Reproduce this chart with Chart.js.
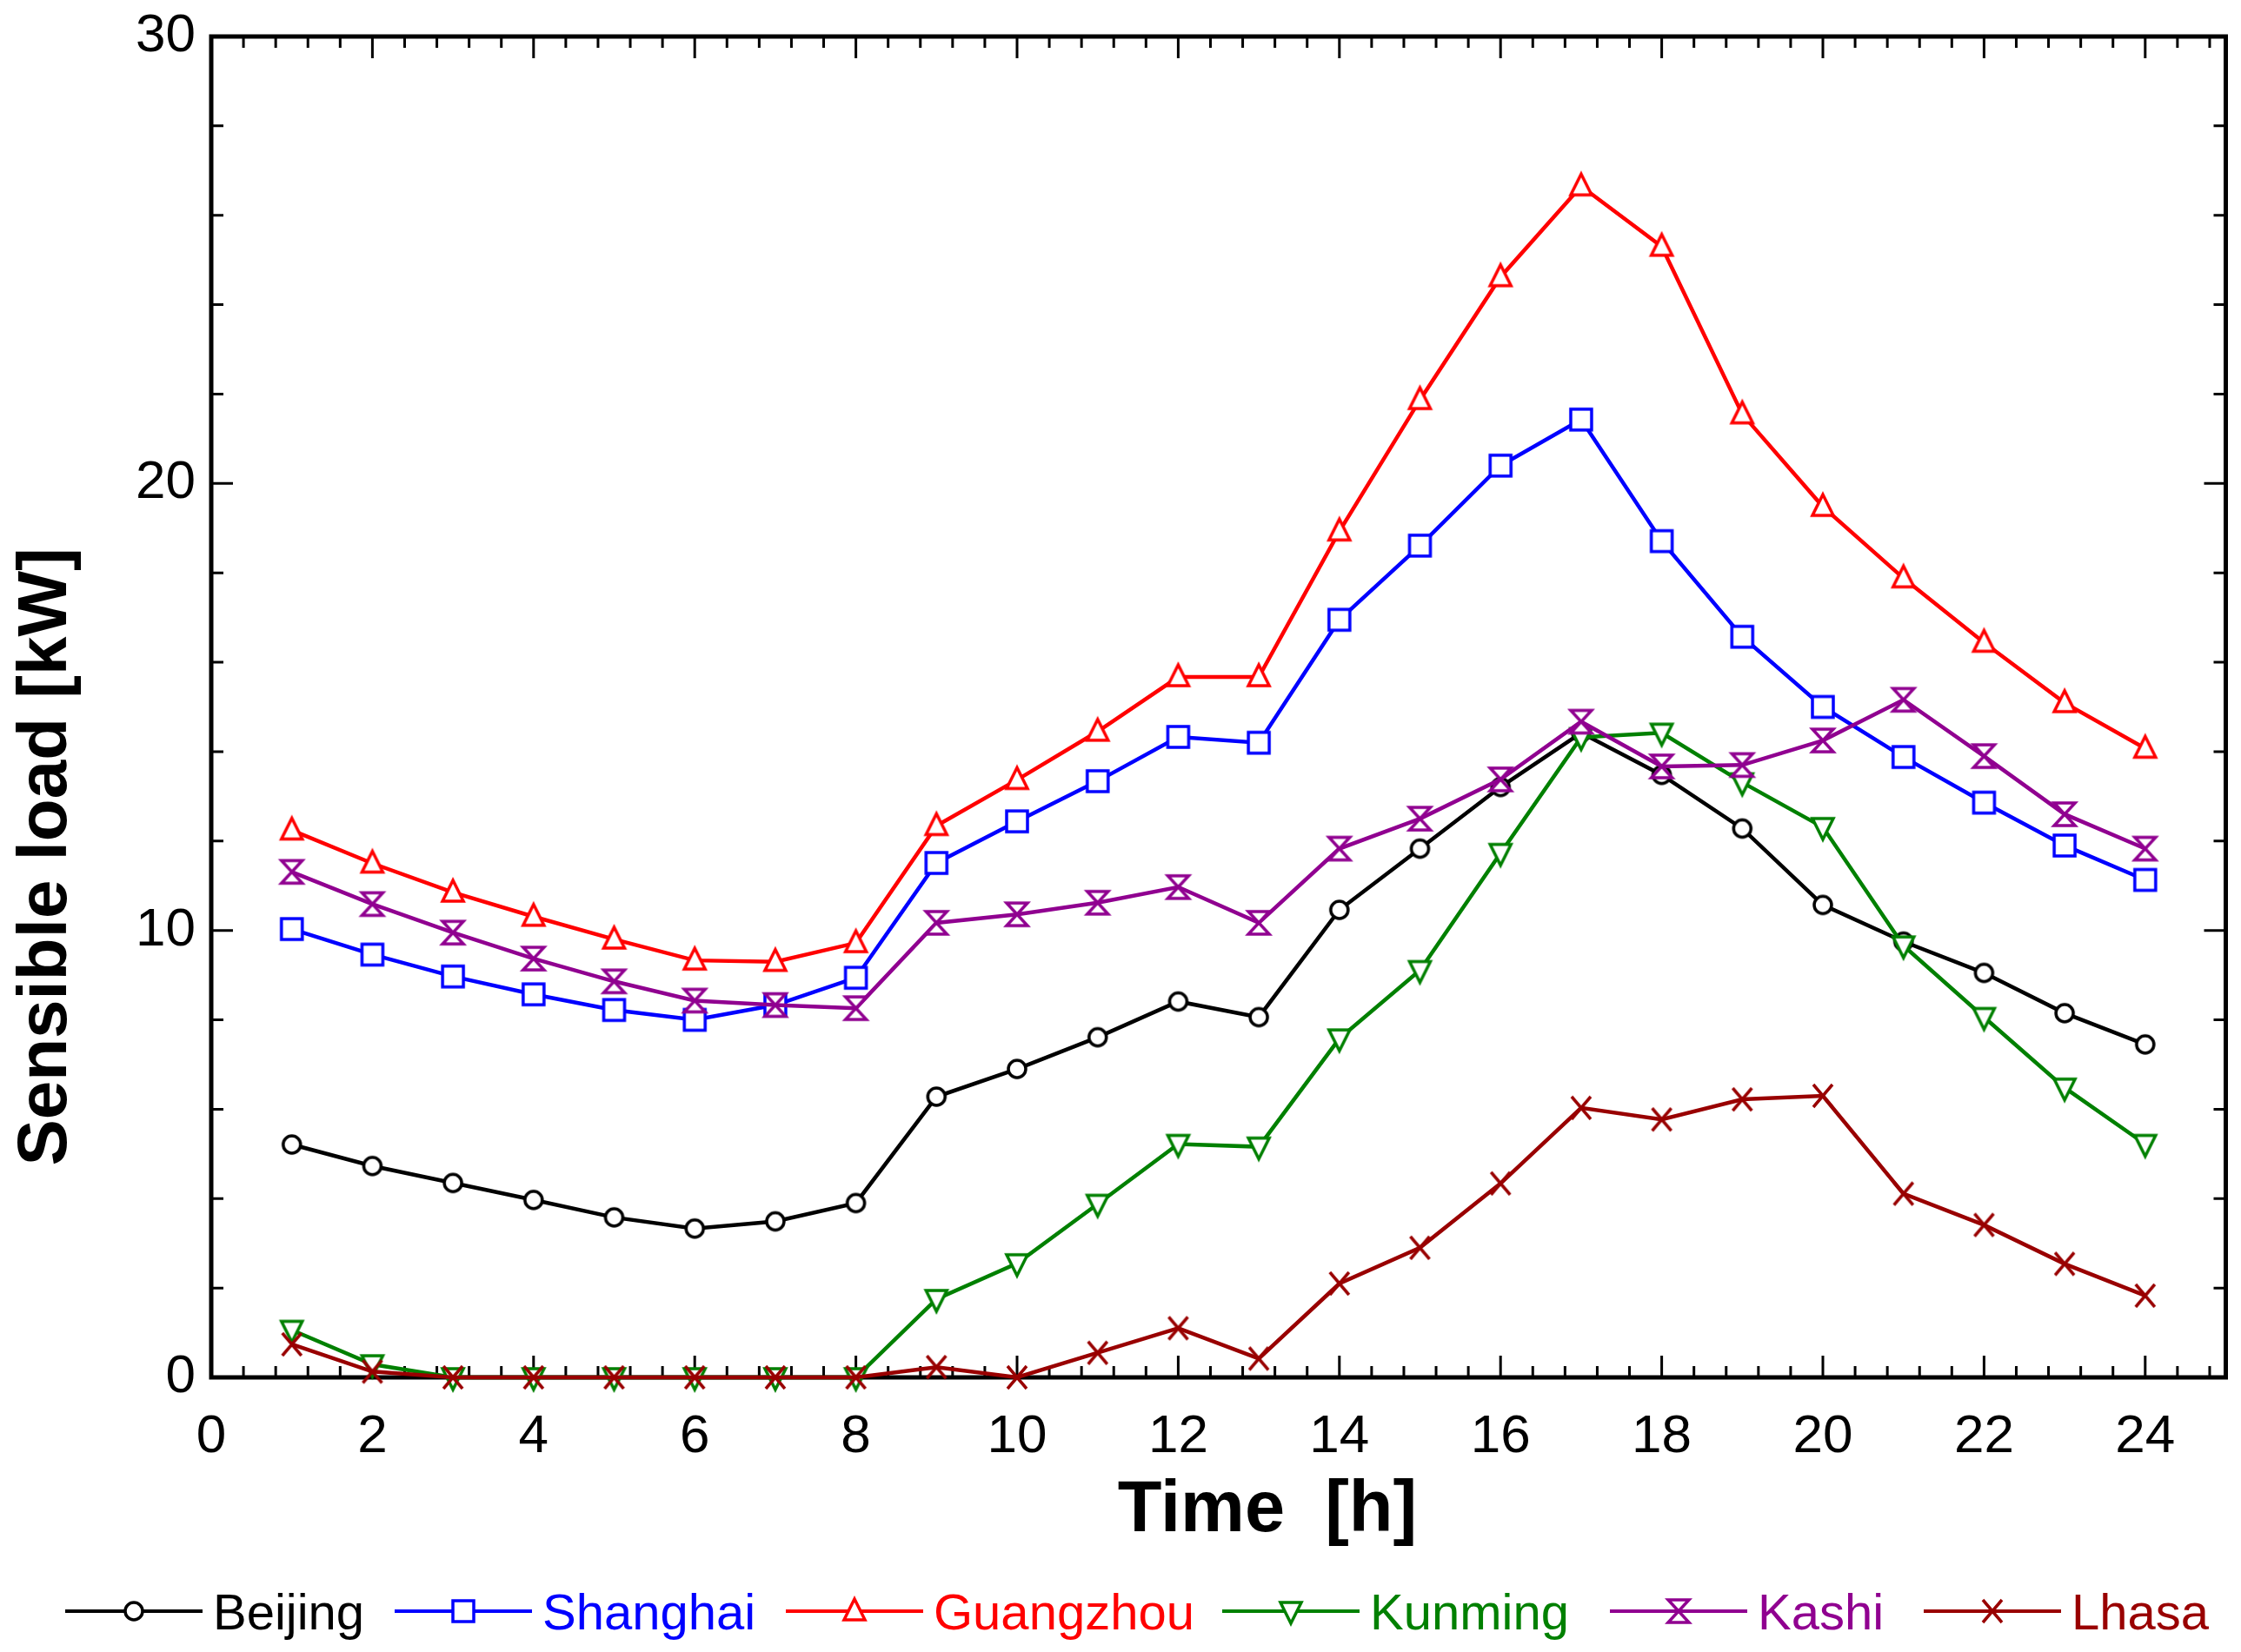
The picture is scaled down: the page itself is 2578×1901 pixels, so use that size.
<!DOCTYPE html>
<html>
<head>
<meta charset="utf-8">
<title>Sensible load</title>
<script src="https://cdn.jsdelivr.net/npm/chart.js@4.4.0/dist/chart.umd.min.js"></script>
<style>
  html, body { margin: 0; padding: 0; background: #fff; }
  #wrap { width: 2578px; height: 1901px; position: relative; }
</style>
</head>
<body>
<div id="wrap"><canvas id="load"></canvas></div>
<script>
// hours of the day (x) and sensible load in kW for each city (y)
const hours = [1, 2, 3, 4, 5, 6, 7, 8, 9, 10, 11, 12, 13, 14, 15, 16, 17, 18, 19, 20, 21, 22, 23, 24];
const cities = ["Beijing", "Shanghai", "Guangzhou", "Kunming", "Kashi", "Lhasa"];

const beijing   = [5.21, 4.73, 4.35, 3.97, 3.58, 3.33, 3.49, 3.90, 6.28, 6.90, 7.61, 8.41, 8.06, 10.46, 11.83, 13.21, 14.42, 13.48, 12.28, 10.57, 9.75, 9.05, 8.15, 7.45];
const shanghai  = [10.03, 9.46, 8.97, 8.57, 8.22, 8.00, 8.33, 8.94, 11.51, 12.44, 13.34, 14.33, 14.20, 16.95, 18.61, 20.40, 21.43, 18.71, 16.57, 15.00, 13.88, 12.86, 11.90, 11.13];
const guangzhou = [12.24, 11.50, 10.85, 10.31, 9.80, 9.33, 9.30, 9.72, 12.34, 13.37, 14.45, 15.67, 15.67, 18.93, 21.87, 24.62, 26.65, 25.30, 21.55, 19.48, 17.88, 16.44, 15.09, 14.07];
const kunming   = [1.06, 0.29, 0, 0, 0, 0, 0, 0, 1.75, 2.55, 3.88, 5.22, 5.16, 7.58, 9.11, 11.73, 14.32, 14.42, 13.31, 12.31, 9.66, 8.06, 6.48, 5.22];
const kashi     = [11.31, 10.59, 9.95, 9.37, 8.86, 8.43, 8.33, 8.26, 10.17, 10.36, 10.62, 10.97, 10.17, 11.83, 12.50, 13.38, 14.67, 13.67, 13.70, 14.25, 15.16, 13.90, 12.60, 11.83];
const lhasa     = [0.74, 0.13, 0, 0, 0, 0, 0, 0, 0.23, 0, 0.55, 1.10, 0.42, 2.10, 2.90, 4.34, 6.03, 5.77, 6.22, 6.30, 4.11, 3.41, 2.54, 1.83];

// tick labels
const xTicks = [0, 2, 4, 6, 8, 10, 12, 14, 16, 18, 20, 22, 24];
const yTicks = [0, 10, 20, 30];

const series = [beijing, shanghai, guangzhou, kunming, kashi, lhasa];
const colors = ["#000000", "#0000ff", "#ff0000", "#008000", "#900090", "#990000"];
const shapes = ["circle", "square", "up", "down", "hourglass", "cross"];

// open markers drawn once on small canvases
function makeMarker(shape, color) {
  const c = document.createElement("canvas");
  c.width = 38; c.height = 38;
  const g = c.getContext("2d");
  g.translate(19, 19);
  g.strokeStyle = color;
  g.fillStyle = "#fff";
  g.lineWidth = 3.5;
  g.lineJoin = "miter";
  g.beginPath();
  if (shape === "circle") {
    g.arc(0, 0, 10, 0, Math.PI * 2);
  } else if (shape === "square") {
    g.rect(-12, -12, 24, 24);
  } else if (shape === "up") {
    g.moveTo(0, -14); g.lineTo(12, 10); g.lineTo(-12, 10); g.closePath();
  } else if (shape === "down") {
    g.moveTo(0, 14); g.lineTo(12, -10); g.lineTo(-12, -10); g.closePath();
  } else if (shape === "hourglass") {
    g.moveTo(-12, -13); g.lineTo(12, -13); g.lineTo(-12, 13); g.lineTo(12, 13); g.closePath();
  }
  if (shape === "cross") {
    g.moveTo(-11, -13); g.lineTo(11, 13);
    g.moveTo(11, -13); g.lineTo(-11, 13);
    g.stroke();
  } else {
    g.fill();
    g.stroke();
  }
  return c;
}
const markers = shapes.map((s, i) => makeMarker(s, colors[i]));

Chart.defaults.font.family = "'Liberation Sans', Arial, sans-serif";
Chart.defaults.color = "#000";

// frame with inward ticks on all four sides
const framePlugin = {
  id: "frame",
  beforeDatasetsDraw(chart) {
    const { ctx, chartArea: a, scales: { x, y } } = chart;
    ctx.save();
    ctx.strokeStyle = "#000";
    ctx.lineWidth = 3;
    ctx.beginPath();
    for (let i = 0; i * 0.4 <= 25.001; i++) {
      const px = x.getPixelForValue(i * 0.4);
      const len = i % 5 === 0 ? 25 : 13;
      ctx.moveTo(px, a.bottom); ctx.lineTo(px, a.bottom - len);
      ctx.moveTo(px, a.top); ctx.lineTo(px, a.top + len);
    }
    for (let v = 0; v <= 30; v += 2) {
      const py = y.getPixelForValue(v);
      const len = v % 10 === 0 ? 25 : 14;
      ctx.moveTo(a.left, py); ctx.lineTo(a.left + len, py);
      ctx.moveTo(a.right, py); ctx.lineTo(a.right - len, py);
    }
    ctx.stroke();
    ctx.lineWidth = 5;
    ctx.strokeRect(a.left, a.top, a.right - a.left, a.bottom - a.top);
    ctx.restore();
  }
};

// axis titles and the legend row under the chart
const legendX = [75, 454, 904, 1406, 1852, 2213];
const labelsPlugin = {
  id: "labels",
  afterDraw(chart) {
    const ctx = chart.ctx;
    ctx.save();
    ctx.fillStyle = "#000";
    ctx.textAlign = "center";
    ctx.textBaseline = "alphabetic";
    ctx.font = "bold 83px 'Liberation Sans', Arial, sans-serif";
    ctx.fillText("Time  [h]", 1458, 1762);

    ctx.save();
    ctx.translate(76, 986);
    ctx.rotate(-Math.PI / 2);
    ctx.font = "bold 80px 'Liberation Sans', Arial, sans-serif";
    ctx.fillText("Sensible load [kW]", 0, 0);
    ctx.restore();

    ctx.textAlign = "left";
    ctx.font = "58px 'Liberation Sans', Arial, sans-serif";
    cities.forEach((name, i) => {
      const x0 = legendX[i];
      ctx.strokeStyle = colors[i];
      ctx.lineWidth = 4;
      ctx.beginPath();
      ctx.moveTo(x0, 1854); ctx.lineTo(x0 + 158, 1854);
      ctx.stroke();
      ctx.drawImage(markers[i], x0 + 79 - 19, 1854 - 19);
      ctx.fillStyle = colors[i];
      ctx.fillText(name, x0 + 170, 1875);
    });
    ctx.restore();
  }
};

new Chart(document.getElementById("load"), {
  type: "line",
  plugins: [framePlugin, labelsPlugin],
  data: {
    datasets: cities.map((name, i) => ({
      label: name,
      data: hours.map((h, k) => ({ x: h, y: series[i][k] })),
      borderColor: colors[i],
      borderWidth: 4.5,
      pointStyle: markers[i],
      pointRadius: 13,
      fill: false,
      tension: 0,
      clip: false,
      order: cities.length - i
    }))
  },
  options: {
    responsive: true,
    maintainAspectRatio: false,
    devicePixelRatio: 1,
    animation: false,
    layout: { padding: { top: 42, right: 10, bottom: 0, left: 0 } },
    plugins: { legend: { display: false }, tooltip: { enabled: false } },
    scales: {
      x: {
        type: "linear",
        min: 0,
        max: 25,
        grid: { display: false, drawTicks: false },
        border: { display: false },
        afterBuildTicks: (s) => { s.ticks = xTicks.map(v => ({ value: v })); },
        afterFit: (s) => { s.height = 316; s.paddingLeft = 0; s.paddingRight = 0; },
        ticks: { font: { size: 62 }, padding: 32, maxRotation: 0, autoSkip: false }
      },
      y: {
        min: 0,
        max: 30,
        grid: { display: false, drawTicks: false },
        border: { display: false },
        afterBuildTicks: (s) => { s.ticks = yTicks.map(v => ({ value: v })); },
        afterFit: (s) => { s.width = 243; s.paddingTop = 0; s.paddingBottom = 0; },
        ticks: { font: { size: 62 }, padding: 18 }
      }
    }
  }
});
</script>
</body>
</html>
